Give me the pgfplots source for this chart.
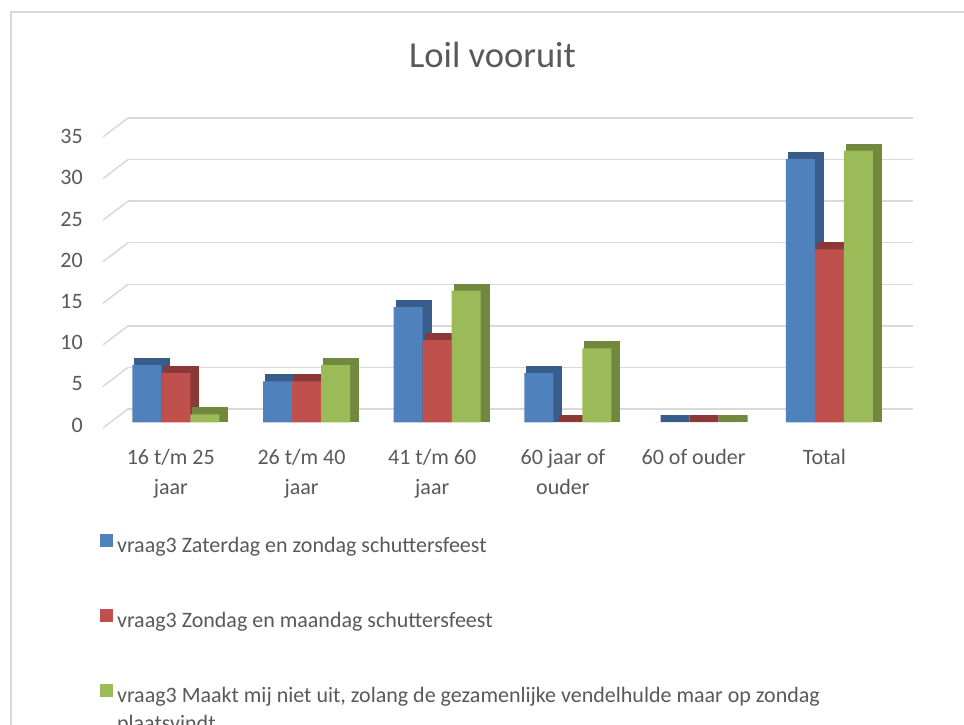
\documentclass[border=0pt]{standalone}
\usepackage{fontspec}
\setmainfont{Carlito}
\usepackage{pgfplots}
\usepackage{pgfplotstable}
\pgfplotsset{compat=1.18}
\definecolor{blueF}{HTML}{4F81BD}
\definecolor{redF}{HTML}{C0504D}
\definecolor{greenF}{HTML}{9BBB59}
\definecolor{blueD}{HTML}{385D8A}
\definecolor{redD}{HTML}{8C3836}
\definecolor{greenD}{HTML}{71893F}
\definecolor{gridc}{HTML}{D9D9D9}
\definecolor{txt}{HTML}{595959}

\pgfplotstableread{
x a b c
0 7 6 1
1 5 5 7
2 14 10 16
3 6 0 9
4 0 0 0
5 32 21 33
}\data

\begin{document}
\begin{tikzpicture}
\useasboundingbox (0,0) rectangle (964pt,725pt);
\fill[white] (0,0) rectangle (964pt,725pt);
\draw[gridc, line width=2pt] (11pt,0) -- (11pt,713pt) -- (966pt,713pt);

% back wall with grid lines and side-wall diagonals
\begin{axis}[scale only axis, width=785pt, height=291pt, at={(128pt,316pt)}, anchor=south west,
  xmin=0, xmax=1, ymin=0, ymax=35, ytick={0,5,...,35}, yticklabels={}, xtick=\empty,
  ymajorgrids, major grid style={gridc, line width=1.5pt}, axis line style={draw=none},
  major tick length=0, clip=false, unbounded coords=jump]
\addplot[gridc, line width=1.5pt] coordinates {
 (-0.03185,-2.285) (0,0) (nan,nan)
 (-0.03185,2.715) (0,5) (nan,nan)
 (-0.03185,7.715) (0,10) (nan,nan)
 (-0.03185,12.715) (0,15) (nan,nan)
 (-0.03185,17.715) (0,20) (nan,nan)
 (-0.03185,22.715) (0,25) (nan,nan)
 (-0.03185,27.715) (0,30) (nan,nan)
 (-0.03185,32.715) (0,35)};
\end{axis}

% front: bars, tick labels, title, legend
\begin{axis}[scale only axis, width=785pt, height=288.4pt, at={(103pt,302.5pt)}, anchor=south west,
  xmin=-0.557, xmax=5.449, ymin=0, ymax=35,
  ybar, bar width=29pt,
  axis line style={draw=none}, major tick length=0, clip=false,
  ytick={0,5,...,35},
  /pgf/number format/assume math mode=true,
  yticklabel style={font=\fontsize{22}{26}\selectfont, text=txt, anchor=east, inner sep=0pt, xshift=-20pt, yshift=-2.5pt},
  xtick={0,1,2,3,4,5},
  xticklabels={{16 t/m 25\\jaar},{26 t/m 40\\jaar},{41 t/m 60\\jaar},{60 jaar of\\ouder},{60 of ouder},{Total}},
  xticklabel style={align=center, anchor=north, inner sep=0pt, font=\fontsize{22}{30}\selectfont, text=txt, xshift=-5pt, yshift=-27pt},
  title={Loil vooruit},
  title style={font=\fontsize{36.5}{40}\selectfont, text=txt, at={(0.5,1)}, anchor=base, yshift=61pt, xshift=-3pt},
  legend style={at={(-0.004,-0.3855)}, anchor=north west, draw=none, fill=none,
    font=\fontsize{22}{28}\selectfont, text=txt, row sep=54.5pt, inner sep=0pt,
    nodes={inner sep=0pt}, column sep=4pt},
  legend cell align=left,
]
% depth faces
\addplot[bar shift=-29pt, fill=blueD, draw=blueD, line width=7pt, line join=miter, xshift=5.5pt, yshift=3.5pt, forget plot] table[x=x,y=a]{\data};
\addplot[bar shift=0pt, fill=redD, draw=redD, line width=7pt, line join=miter, xshift=5.5pt, yshift=3.5pt, forget plot] table[x=x,y=b]{\data};
\addplot[bar shift=29pt, fill=greenD, draw=greenD, line width=7pt, line join=miter, xshift=5.5pt, yshift=3.5pt, forget plot] table[x=x,y=c]{\data};
% front faces
\addplot[bar shift=-29pt, fill=blueF, draw=none,
  legend image code/.code={\fill[blueF] (0pt,-1pt) rectangle (13pt,12pt);}] table[x=x,y=a]{\data};
\addlegendentry{vraag3 Zaterdag en zondag schuttersfeest}
\addplot[bar shift=0pt, fill=redF, draw=none,
  legend image code/.code={\fill[redF] (0pt,-1pt) rectangle (13pt,12pt);}] table[x=x,y=b]{\data};
\addlegendentry{vraag3 Zondag en maandag schuttersfeest}
\addplot[bar shift=29pt, fill=greenF, draw=none,
  legend image code/.code={\fill[greenF] (0pt,-1pt) rectangle (13pt,12pt);}] table[x=x,y=c]{\data};
\addlegendentry{\parbox[t]{830pt}{\raggedright vraag3 Maakt mij niet uit, zolang de gezamenlijke vendelhulde maar op zondag\\plaatsvindt}}
\end{axis}
\end{tikzpicture}
\end{document}
